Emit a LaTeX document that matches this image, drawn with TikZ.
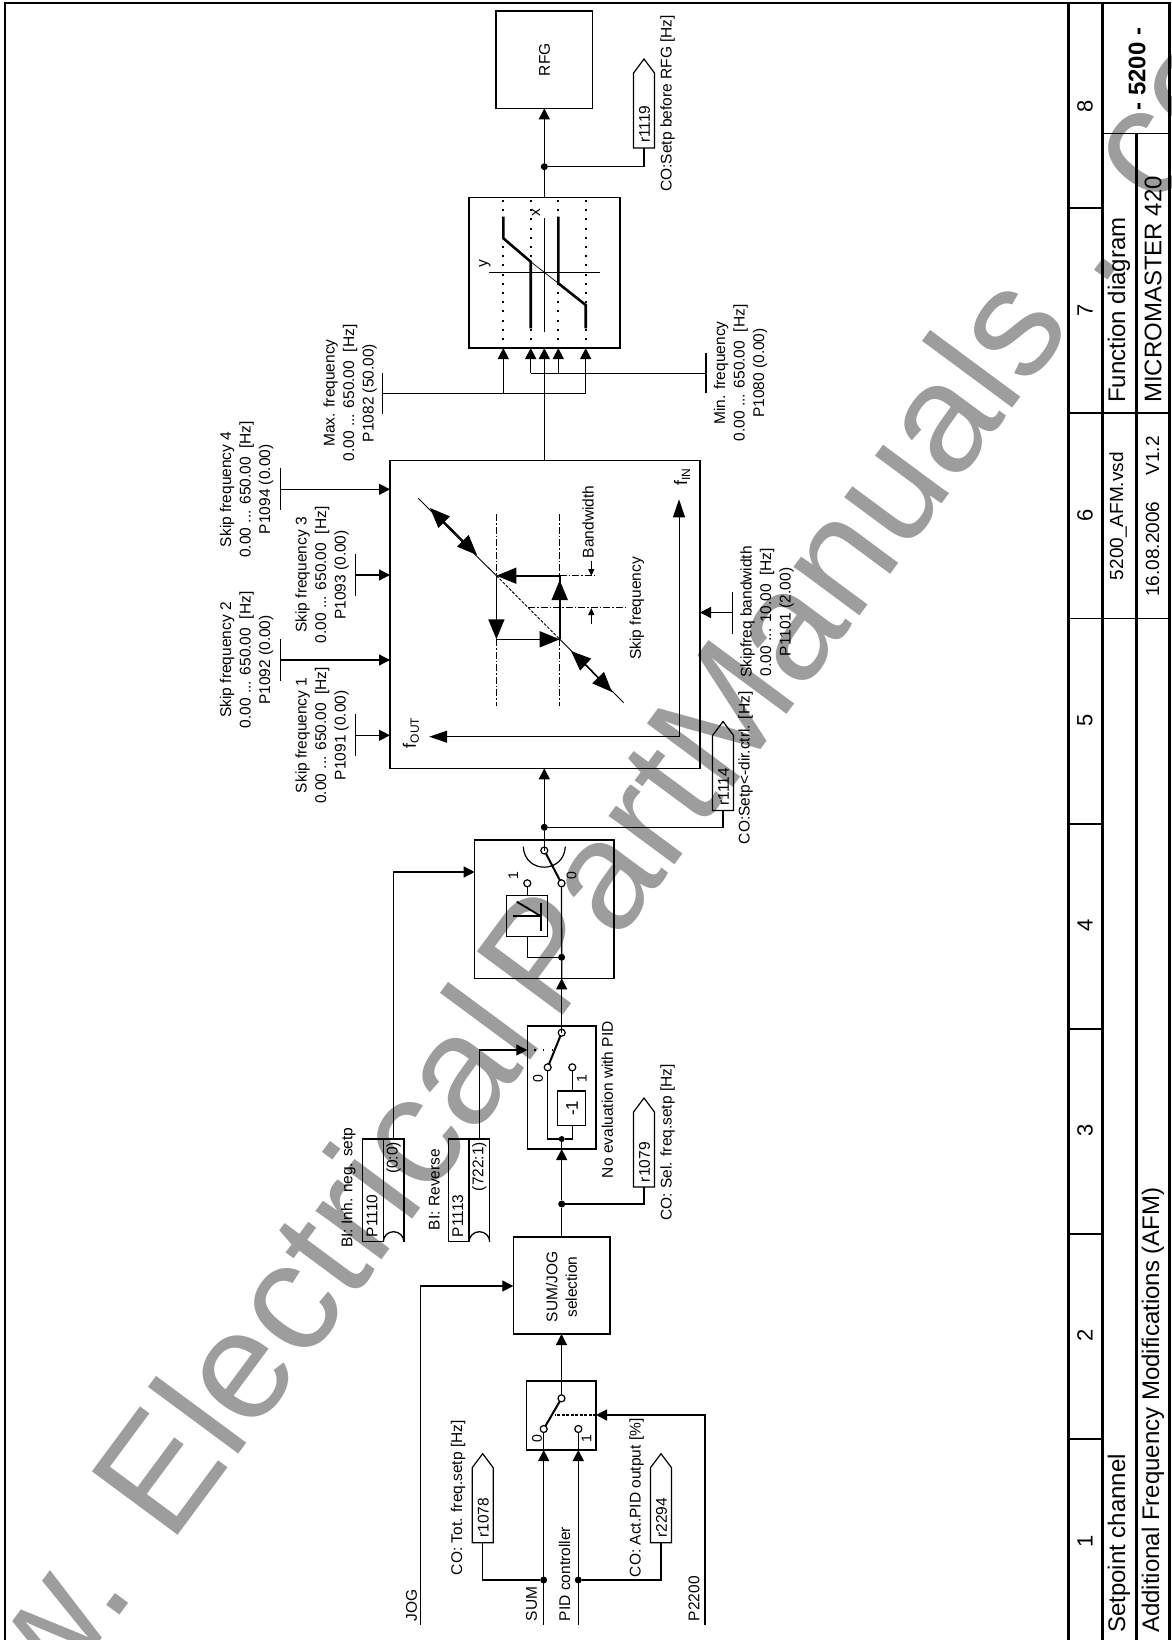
\documentclass[tikz,border=0pt]{standalone}
\usepackage{fontspec}
\setmainfont{Liberation Sans}
\usetikzlibrary{arrows.meta}
\definecolor{wm}{RGB}{157,157,157}
\newcommand{\sublab}[2]{{\fontsize{18}{20}\selectfont #1}\raisebox{-3pt}{\fontsize{12}{12}\selectfont #2}}
\tikzset{
  wire/.style={line width=1.3pt},
  arr/.style={wire,-{Triangle[length=11pt,width=11pt]}},
  bigarr/.style={line width=1.6pt,-{Triangle[length=20pt,width=16pt]}},
  thinarr/.style={line width=0.9pt,-{Triangle[length=18pt,width=12pt]}},
  smallarr/.style={line width=0.9pt,-{Triangle[length=7pt,width=6pt]}},
  blk/.style={draw,line width=1.3pt,inner sep=0pt,outer sep=0pt,fill=none},
  lab/.style={font=\fontsize{15.5}{19.5}\selectfont,rotate=90,inner sep=0pt,outer sep=0pt,align=center},
  small/.style={font=\fontsize{14}{16}\selectfont,rotate=90,inner sep=0pt},
  title/.style={font=\fontsize{24}{28}\selectfont,rotate=90,inner sep=0pt},
  frame/.style={line width=2.6pt},
  rule/.style={line width=1.8pt},
  dotj/.style={circle,fill=black,inner sep=0pt,minimum size=7pt},
  contact/.style={circle,draw,fill=white,line width=1.2pt,inner sep=0pt,minimum size=7pt},
  lever/.style={line width=2pt},
  dashdot/.style={line width=0.9pt,dash pattern=on 7pt off 2pt on 1.5pt off 2pt},
  heavy/.style={line width=2.6pt},
  dots/.style={line width=2pt,dash pattern=on 2pt off 7.2pt},
}
\begin{document}
\begin{tikzpicture}[x=1pt,y=-1pt]
\useasboundingbox (0,0) rectangle (1171,1640);
\fill[white] (0,0) rectangle (1171,1640);
% watermark
\begin{scope}
\clip (0,0) rectangle (1171,1640);
\node[rotate=53.5,anchor=base west,inner sep=0pt,outer sep=0pt,text=wm,font=\fontsize{155}{155}\selectfont] (wmark) at (-83.4,1889.7) {www. Electrical\hspace{.12em}PartManuals . com};
\end{scope}
% frame
\draw[frame] (5,1640) -- (5,3) -- (1169.5,3) -- (1169.5,1640);
\draw[frame] (1068.5,3) -- (1068.5,1640);
\draw[frame] (1102.5,3) -- (1102.5,1640);
\draw[frame] (1136.5,133.5) -- (1136.5,1640);
\draw[rule] (1068.5,208) -- (1102.5,208) (1068.5,413) -- (1102.5,413) (1068.5,618.5) -- (1102.5,618.5) (1068.5,824) -- (1102.5,824) (1068.5,1029) -- (1102.5,1029) (1068.5,1234) -- (1102.5,1234) (1068.5,1439) -- (1102.5,1439);
\draw[rule] (1102.5,133.5) -- (1169.5,133.5) (1102.5,413) -- (1169.5,413) (1102.5,618.5) -- (1169.5,618.5);
\foreach \n/\y in {8/106,7/310,6/515,5/720,4/925,3/1130,2/1335,1/1541}
  \node[font=\fontsize{22}{24}\selectfont,rotate=90,inner sep=0pt] (num\n) at (1085,\y) {\n};
\node[rotate=90,inner sep=0pt,font=\bfseries\fontsize{24}{26}\selectfont] (drawno) at (1137,69) {- 5200 -};
\node[title,anchor=west] (fd) at (1119,403) {Function diagram};
\node[title,anchor=west] (mm) at (1153,403) {MICROMASTER 420};
\node[lab,font=\fontsize{19}{21}\selectfont,anchor=west] (vsd) at (1118,580) {5200\_AFM.vsd};
\node[lab,font=\fontsize{19}{21}\selectfont,anchor=west] (ver) at (1152.5,596.7) {16.08.2006\ \ \ \ \ V1.2};
\node[title,anchor=west] (sc) at (1119,1633) {Setpoint channel};
\node[title,anchor=west] (afm) at (1153,1633) {Additional Frequency Modifications (AFM)};

% ---- input section
\coordinate (jogS) at (420.7,1625);
\coordinate (sumS) at (543.7,1625);
\coordinate (pidS) at (578.3,1625);
\coordinate (p22S) at (705,1625);
\node[lab,anchor=west] (tjog) at (411.5,1621) {JOG};
\node[lab,anchor=west] (tsum) at (531.5,1621) {SUM};
\node[lab,anchor=west] (tpid) at (564.5,1621) {PID controller};
\node[lab,anchor=west] (tp22) at (694,1621) {P2200};

\node[blk,minimum width=96.7pt,minimum height=97pt] (sj) at (561.7,1285.5) {};
\node[lab] (tsj) at (561.7,1287) {SUM/JOG\\selection};
\coordinate (sjW) at (513.3,1286);
\draw[arr] (jogS) |- (sjW);

\node[blk,minimum width=69.3pt,minimum height=69pt] (sw1) at (561.3,1415.5) {};
\coordinate (sw1a) at (561.5,1398.3);
\coordinate (sw1z) at (543.7,1429);
\coordinate (sw1o) at (578.3,1429);
\coordinate (sw1zb) at (543.7,1450);
\coordinate (sw1ob) at (578.3,1450);
\coordinate (sw1r) at (596,1415);
\coordinate (sw1m) at (555,1415);
\coordinate (sjS) at (561.5,1334);
\draw[arr] (sw1a) -- (sjS);
\draw[arr] (sumS) -- (sw1zb);
\draw[arr] (pidS) -- (sw1ob);
\draw[wire] (sw1zb) -- (sw1z);
\draw[wire] (sw1ob) -- (sw1o);
\draw[arr] (p22S) |- (sw1r);
\draw[line width=1.6pt,dash pattern=on 3pt off 1.5pt] (sw1r) -- (sw1m);
\draw[lever] (sw1z) -- (sw1a);
\node[contact] (c1a) at (sw1a) {};
\node[contact] (c1z) at (sw1z) {};
\node[contact] (c1o) at (sw1o) {};
\node[small] (t10) at (537,1439) {0};
\node[small] (t11) at (586.5,1439) {1};
\node[dotj] (dsum) at (543.7,1580) {};
\node[dotj] (dpid) at (578.3,1580) {};

\newcommand{\tagshape}[4]{% name, x-centre, y-bottom, text
  \draw[line width=1.2pt] (#2-10.5,#3) -- (#2-10.5,#3-75) -- (#2,#3-89) -- (#2+10.5,#3-75) -- (#2+10.5,#3) -- cycle;
  \coordinate (#1) at (#2,#3);
  \node[lab,anchor=west] (#1t) at (#2+0.5,#3-5) {#4};
}
\tagshape{r1078}{482.7}{1542.7}{r1078}
\tagshape{r2294}{661}{1542.7}{r2294}
\tagshape{r1079}{644}{1187}{r1079}
\tagshape{r1119}{644}{148}{r1119}
\tagshape{r1114}{723}{810.5}{r1114}
\draw[wire] (r1078) |- (dsum);
\draw[wire] (r2294) |- (dpid);
\node[lab,anchor=west] (t1078) at (458,1575) {CO: Tot. freq.setp [Hz]};
\node[lab,anchor=west] (t2294) at (636.7,1577) {CO: Act.PID output [\%]};

% ---- sign section
\node[dotj] (d1204) at (561.7,1204) {};
\coordinate (b3S) at (561.7,1149);
\draw[wire] (sj.north -| d1204) -- (d1204);
\draw[arr] (d1204) -- (b3S);
\draw[wire] (r1079) |- (d1204);
\node[lab,anchor=west] (t1079) at (667.7,1220.7) {CO: Sel. freq.setp [Hz]};
\node[lab,anchor=west] (tnoev) at (607.3,1178) {No evaluation with PID};

\node[blk,minimum width=68.7pt,minimum height=123pt] (b3) at (561.7,1087.5) {};
\node[dotj,minimum size=6pt] (d1139) at (561.7,1139) {};
\draw[wire] (b3S) -- (d1139);
\coordinate (c3z) at (547.7,1067.3);
\coordinate (c3o) at (572.3,1067.3);
\coordinate (c3a) at (561.7,1032.7);
\node[blk,minimum width=28pt,minimum height=34.3pt] (neg) at (571.7,1108.2) {};
\node[lab,font=\fontsize{17}{19}\selectfont] (tneg) at (572,1108.2) {-1};
\draw[wire] (c3z) |- (d1139);
\draw[wire] (d1139) -| (c3o |- neg.south);
\draw[wire] (c3o |- neg.north) -- (c3o);
\draw[lever] (c3z) -- (c3a);
\node[contact] (cc3z) at (c3z) {};
\node[contact] (cc3o) at (c3o) {};
\node[contact] (cc3a) at (c3a) {};
\node[small] (t30) at (538,1079) {0};
\node[small] (t31) at (581.7,1079) {1};
\coordinate (b3W) at (527.3,1050);
\coordinate (b4S) at (561.7,978.3);
\draw[arr] (c3a) -- (b4S);
\draw[line width=1.4pt,dash pattern=on 1.4pt off 7.2pt] (b3W) ++(7,0) -- (554,1050);

% parameter connectors
\newcommand{\bico}[5]{% name, x-left, top, param, value
  \draw[line width=1.3pt] (#2+20.6,1241.7) arc[start angle=180,end angle=0,x radius=10.3pt,y radius=10pt];
  \draw[line width=1.3pt] (#2,1241.7) -- (#2,1139) -- (#2+41.2,1139) -- (#2+41.2,1241.7);
  \draw[line width=1.3pt] (#2,1241.7) -- (#2+20.6,1241.7) -- (#2+20.6,1139);
  \coordinate (#1) at (#2+30.8,1139);
  \node[lab,anchor=west] (#1p) at (#2+9.3,1237) {#4};
  \node[lab,anchor=east] (#1v) at (#2+30.8,1142) {#5};
}
\bico{p1110}{362.7}{1139}{P1110}{(0:0)}
\bico{p1113}{448.5}{1139}{P1113}{(722:1)}
\node[lab,anchor=west] (tinh) at (348.3,1247.7) {BI: Inh. neg. setp};
\node[lab,anchor=west] (trev) at (434.3,1230) {BI: Reverse};
\draw[arr] (p1113) |- (b3W);
\coordinate (b4W) at (474.7,872);
\draw[arr] (p1110) |- (b4W);

% ---- negative-inhibit box
\node[blk,minimum width=139.3pt,minimum height=138.3pt] (b4) at (544.3,909.2) {};
\coordinate (c4a) at (544.3,850.5);
\coordinate (c4z) at (561.5,883.3);
\coordinate (c4o) at (527.3,883.3);
\node[blk,minimum width=41.2pt,minimum height=41.4pt] (lim) at (527.2,916) {};
\node[dotj,minimum size=7pt] (d957) at (561.6,957.3) {};
\draw[wire] (b4S) -- (c4z);
\draw[wire] (d957) -| (c4o |- lim.south);
\draw[wire] (c4o |- lim.north) -- (c4o);
\draw[line width=1.2pt] (523.3,846.7) .. controls (524.5,874) and (564,874) .. (565.3,846.7);
\draw[lever] (c4a) -- (c4z);
\node[contact] (cc4a) at (c4a) {};
\node[contact] (cc4z) at (c4z) {};
\node[contact] (cc4o) at (c4o) {};
\node[small] (t40) at (571.5,875.7) {0};
\node[small] (t41) at (513.3,875.7) {1};
\draw[line width=1.8pt] (516.7,901.7) -- (540.7,916);
\draw[wire] (513.3,916) -- (540.7,916);
\draw[line width=1.8pt] (540.7,902.7) -- (540.7,930.7);

% ---- main skip box
\node[dotj] (d827) at (544.3,827.3) {};
\coordinate (mainS) at (544.3,768.3);
\draw[wire] (c4a) -- (d827);
\draw[arr] (d827) -- (mainS);
\draw[wire] (d827) -| (r1114);
\node[lab,anchor=east] (t1114) at (745.5,691.5) {CO:Setp<-dir.ctrl. [Hz]};
\node[blk,minimum width=310pt,minimum height=307.6pt] (mb) at (545,614.5) {};
\foreach \nm/\bx/\by/\tx/\a/\b/\c in {
 s4/280.2/489.3/246.5/Skip frequency 4/{0.00 ... 650.00\ \ [Hz]}/P1094 (0.00),
 s3/355.7/575/322/Skip frequency 3/{0.00 ... 650.00\ \ [Hz]}/P1093 (0.00),
 s2/280.2/660/246.5/Skip frequency 2/{0.00 ... 650.00\ \ [Hz]}/P1092 (0.00),
 s1/355.7/735.3/322/Skip frequency 1/{0.00 ... 650.00\ \ [Hz]}/P1091 (0.00)}{
  \coordinate (\nm) at (\bx,\by);
  \coordinate (\nm e) at (390,\by);
  \draw[wire] (\bx,\by-21) -- (\bx,\by+21);
  \draw[arr] (\nm) -- (\nm e);
  \node[lab] (\nm t) at (\tx,\by) {\a\\\b\\\c};
}
\coordinate (sb) at (732.4,612.5);
\coordinate (sbe) at (700,612.5);
\draw[wire] (732.4,591.5) -- (732.4,633.5);
\draw[arr] (sb) -- (sbe);
\node[lab] (tsb) at (767,612) {Skipfreq bandwidth\\0.00 ... 10.00\ \ [Hz]\\P1101 (2.00)};

% inner graph
\coordinate (A) at (496.4,575.7);
\coordinate (B) at (559.7,639.3);
\coordinate (C) at (559.7,575.7);
\coordinate (D) at (496.4,639.3);
\coordinate (ax) at (679,736.7);
\coordinate (axn) at (679,499.3);
\coordinate (axw) at (429.2,736.7);
\draw[thinarr] (ax) -- (axn);
\draw[thinarr] (ax) -- (axw);
\node[lab,anchor=center] (tfin) at (682,477) {\sublab{f}{IN}};
\node[lab,anchor=center] (tfout) at (411,733) {\sublab{f}{OUT}};
\draw[line width=0.9pt] (418.2,498.3) -- (A);
\draw[line width=0.9pt,dash pattern=on 3pt off 1.5pt] (A) -- (B);
\draw[line width=0.9pt] (B) -- (623.7,702.7);
\draw[dashdot] (496.4,514.3) -- (496.4,706);
\draw[dashdot] (559.7,514.3) -- (559.7,706);
\draw[dashdot] (559.7,575.7) -- (597,575.7);
\draw[dashdot] (528,607.7) -- (627.7,607.7);
\draw[bigarr] (C) -- (A);
\draw[bigarr] (A) -- (D);
\draw[bigarr] (D) -- (B);
\draw[bigarr] (B) -- (559.7,580);
\draw[line width=1.6pt] (559.7,595) -- (C);
\draw[bigarr] (455,533) -- (430,508);
\draw[bigarr] (448,526) -- (477,555);
\draw[bigarr] (585,664) -- (571,651);
\draw[bigarr] (580,659) -- (612,692);
\coordinate (bw1) at (591.3,561);
\coordinate (bw2) at (591.3,576);
\coordinate (bw3) at (591.3,624);
\coordinate (bw4) at (591.3,608);
\draw[smallarr] (bw1) -- (bw2);
\draw[smallarr] (bw3) -- (bw4);
\node[lab,anchor=east] (tbw) at (588,485.7) {Bandwidth};
\node[lab,anchor=east] (tsf) at (636.8,557) {Skip frequency};

% ---- min/max limiter
\coordinate (mainN) at (544.3,460.7);
\coordinate (hlS) at (544.3,348);
\draw[arr] (mainN) -- (hlS);
\node[blk,minimum width=151pt,minimum height=150.3pt] (hl) at (544.5,272.8) {};
\foreach \xv in {503.3,530.7,558.3,585.7}
  \draw[dots] (\xv,200) -- (\xv,347);
\draw[wire] (544.3,218) -- (544.3,331.7);
\draw[wire] (489,272.7) -- (600,272.7);
\draw[heavy] (503.3,216.7) -- (503.3,238.3) -- (530.7,261.7) -- (530.7,328.3);
\draw[wire,line width=0.7pt] (530.7,261.7) -- (558.3,283.3);
\draw[heavy] (558.3,216.7) -- (558.3,283.3) -- (585.7,305) -- (585.7,328.3);
\node[lab] (ty) at (485,263.3) {y};
\node[lab] (tx) at (536,212.3) {x};
\coordinate (maxb) at (382.7,393.3);
\coordinate (minb) at (706,373.3);
\draw[wire] (382.7,372.7) -- (382.7,414.3);
\draw[wire] (706,352.7) -- (706,393.3);
\draw[wire] (maxb) -- (585.7,393.3);
\draw[wire] (minb) -- (530.7,373.3);
\draw[arr] (503.3,393.3) -- (503.3,348);
\draw[arr] (585.7,393.3) -- (585.7,348);
\draw[arr] (530.7,373.3) -- (530.7,348);
\draw[arr] (558.3,373.3) -- (558.3,348);
\node[lab] (tmax) at (350,393) {Max. frequency\\0.00 ... 650.00\ \ [Hz]\\P1082 (50.00)};
\node[lab] (tmin) at (740.5,373) {Min. frequency\\0.00 ... 650.00\ \ [Hz]\\P1080 (0.00)};

% ---- RFG
\node[blk,minimum width=96.7pt,minimum height=97.3pt] (rfg) at (544.3,59.7) {};
\node[lab] (trfg) at (544.5,59.7) {RFG};
\node[dotj] (d166) at (544.3,166.7) {};
\draw[wire] (544.3,197.7) -- (d166);
\draw[arr] (d166) -- (rfg.south);
\draw[wire] (r1119) |- (d166);
\node[lab,anchor=east] (t1119) at (667.5,15) {CO:Setp before RFG [Hz]};
\end{tikzpicture}
\end{document}
